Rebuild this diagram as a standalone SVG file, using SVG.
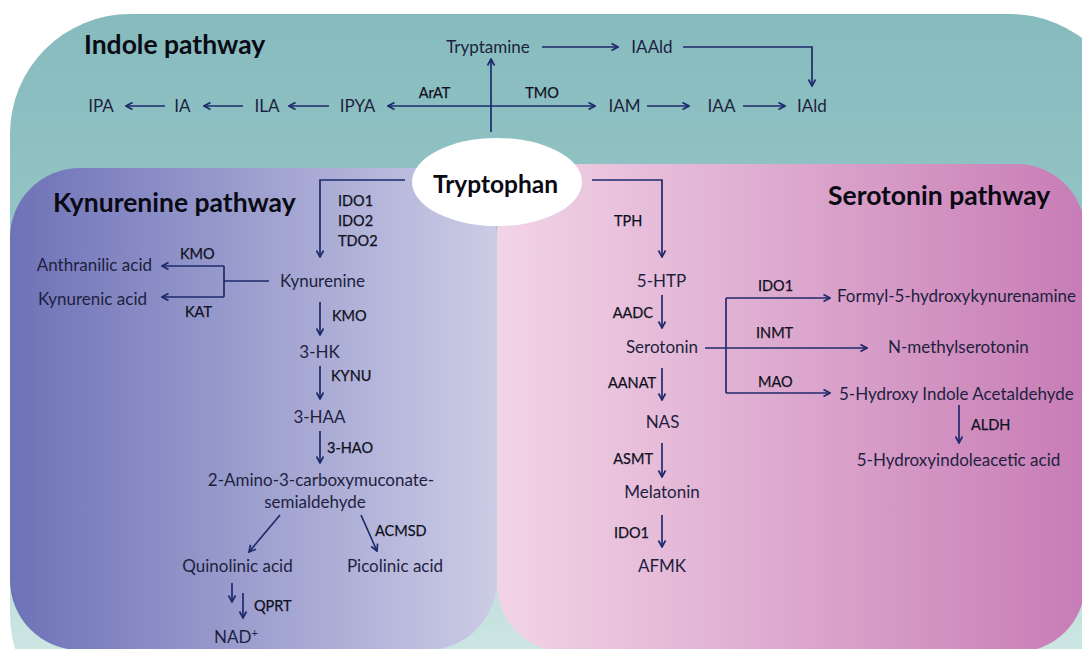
<svg xmlns="http://www.w3.org/2000/svg" width="1082" height="649" viewBox="0 0 1082 649">
<defs>
<linearGradient id="gTeal" x1="0" y1="0" x2="0" y2="1">
<stop offset="0" stop-color="#86bbbe"/><stop offset="0.3" stop-color="#94c4c5"/><stop offset="1" stop-color="#d6ece8"/>
</linearGradient>
<linearGradient id="gPurple" x1="0" y1="0" x2="1" y2="0">
<stop offset="0" stop-color="#6e72b7"/><stop offset="1" stop-color="#cccce6"/>
</linearGradient>
<linearGradient id="gPink" x1="0" y1="0" x2="1" y2="0">
<stop offset="0" stop-color="#f2d4e7"/><stop offset="1" stop-color="#c77cb5"/>
</linearGradient>
<marker id="ah" viewBox="0 0 10 10" refX="9" refY="5" markerWidth="10" markerHeight="10" markerUnits="userSpaceOnUse" orient="auto">
<path d="M2.5,1.5 L9,5 L2.5,8.5" fill="none" stroke="#1f2a6b" stroke-width="1.7"/>
</marker>
</defs>
<style>
.c{font-family:Lato,"Liberation Sans",sans-serif;font-size:17px;fill:#1e1f3f}
.e{font-family:Lato,"Liberation Sans",sans-serif;font-size:14.5px;fill:#101020;stroke:#101020;stroke-width:0.25}
.t{font-family:Lato,"Liberation Sans",sans-serif;font-size:26.5px;font-weight:bold;fill:#0a0a14}
.m{text-anchor:middle}
.end{text-anchor:end}
.ln{fill:none;stroke:#1f2a6b;stroke-width:1.7}
.ar{fill:none;stroke:#1f2a6b;stroke-width:1.7;marker-end:url(#ah)}
</style>
<rect width="1082" height="649" fill="#ffffff"/>
<g id="panels">
<rect id="indole-panel" x="10" y="14" width="1120" height="720" rx="120" fill="url(#gTeal)"/>
<rect id="kynurenine-panel" x="10" y="168" width="487" height="482" rx="70" fill="url(#gPurple)"/>
<rect id="serotonin-panel" x="497" y="164" width="588" height="488" rx="68" fill="url(#gPink)"/>
</g>
<g id="titles">
<text class="t" x="84" y="54">Indole pathway</text>
<text class="t" x="53" y="212">Kynurenine pathway</text>
<text class="t" x="828" y="205">Serotonin pathway</text>
</g>
<g id="connectors">
<path class="ar" d="M491,132 V59"/>
<path class="ar" d="M491,106 H388"/>
<path class="ar" d="M491,106 H595"/>
<path class="ar" d="M329,106 H289"/>
<path class="ar" d="M243,106 H204"/>
<path class="ar" d="M165,106 H126"/>
<path class="ar" d="M542,47 H618"/>
<path class="ar" d="M683,47 H812 V86"/>
<path class="ar" d="M647,106 H689"/>
<path class="ar" d="M743,106 H785"/>
<path class="ar" d="M405,180 H320 V257"/>
<path class="ln" d="M269,281 H224 M224,266 V297"/>
<path class="ar" d="M224,266 H162"/>
<path class="ar" d="M224,297 H162"/>
<path class="ar" d="M320,302 V335"/>
<path class="ar" d="M320,366 V399"/>
<path class="ar" d="M320,431 V463"/>
<path class="ar" d="M280,515 L249,552"/>
<path class="ar" d="M361,515 L377,551"/>
<path class="ar" d="M232,583 V602"/>
<path class="ar" d="M243,593 V618"/>
<path class="ar" d="M592,180 H662 V257"/>
<path class="ar" d="M662,295 V328"/>
<path class="ar" d="M705,348 H867"/>
<path class="ln" d="M726,298 V393"/>
<path class="ar" d="M726,298 H830"/>
<path class="ar" d="M726,393 H830"/>
<path class="ar" d="M959,405 V443"/>
<path class="ar" d="M662,368 V400"/>
<path class="ar" d="M662,443 V477"/>
<path class="ar" d="M662,515 V547"/>
</g>
<g id="enzyme-labels">
<text class="e m" x="434.5" y="98">ArAT</text>
<text class="e m" x="542" y="98">TMO</text>
<text class="e" x="338" y="206">IDO1</text>
<text class="e" x="338" y="226">IDO2</text>
<text class="e" x="338" y="246">TDO2</text>
<text class="e" x="180" y="259">KMO</text>
<text class="e" x="185" y="317">KAT</text>
<text class="e" x="332" y="321">KMO</text>
<text class="e" x="331" y="381">KYNU</text>
<text class="e" x="327" y="453">3-HAO</text>
<text class="e" x="375" y="536">ACMSD</text>
<text class="e" x="254" y="611">QPRT</text>
<text class="e" x="614" y="226">TPH</text>
<text class="e end" x="653" y="318">AADC</text>
<text class="e" x="758" y="291">IDO1</text>
<text class="e" x="756" y="338">INMT</text>
<text class="e" x="758" y="387">MAO</text>
<text class="e" x="971" y="430">ALDH</text>
<text class="e end" x="656" y="388">AANAT</text>
<text class="e end" x="653" y="464">ASMT</text>
<text class="e end" x="649" y="538">IDO1</text>
</g>
<g id="tryptophan">
<ellipse cx="497" cy="182" rx="85" ry="44" fill="#ffffff"/>
<text class="m" x="495.5" y="193" style="font-family:Lato,'Liberation Sans',sans-serif;font-size:24.5px;font-weight:bold;fill:#0a0a14">Tryptophan</text>
</g>
<g id="tryptamine"><text class="c m" x="488" y="53">Tryptamine</text></g>
<g id="iaald"><text class="c m" x="652" y="53">IAAld</text></g>
<g id="ipa"><text class="c m" x="101" y="112">IPA</text></g>
<g id="ia"><text class="c m" x="182.5" y="112">IA</text></g>
<g id="ila"><text class="c m" x="267" y="112">ILA</text></g>
<g id="ipya"><text class="c m" x="357.5" y="112">IPYA</text></g>
<g id="iam"><text class="c m" x="624.5" y="112">IAM</text></g>
<g id="iaa"><text class="c m" x="721.5" y="112">IAA</text></g>
<g id="iald"><text class="c m" x="812" y="112">IAld</text></g>
<g id="kynurenine"><text class="c m" x="322.5" y="287">Kynurenine</text></g>
<g id="anthranilic-acid"><text class="c end" x="152" y="271">Anthranilic acid</text></g>
<g id="kynurenic-acid"><text class="c end" x="147" y="305">Kynurenic acid</text></g>
<g id="hk3"><text class="c m" x="319.5" y="358">3-HK</text></g>
<g id="haa3"><text class="c m" x="319.5" y="423">3-HAA</text></g>
<g id="acms"><text class="c m" x="321" y="486">2-Amino-3-carboxymuconate-</text><text class="c m" x="315" y="508">semialdehyde</text></g>
<g id="quinolinic-acid"><text class="c m" x="237.5" y="572">Quinolinic acid</text></g>
<g id="picolinic-acid"><text class="c m" x="395" y="572">Picolinic acid</text></g>
<g id="nad"><text class="c m" x="236" y="643">NAD<tspan font-size="11" dy="-6">+</tspan></text></g>
<g id="htp5"><text class="c m" x="661.5" y="287">5-HTP</text></g>
<g id="serotonin"><text class="c m" x="662" y="353">Serotonin</text></g>
<g id="formyl"><text class="c" x="837" y="302">Formyl-5-hydroxykynurenamine</text></g>
<g id="n-methylserotonin"><text class="c" x="888" y="353">N-methylserotonin</text></g>
<g id="hial5"><text class="c" x="839" y="400">5-Hydroxy Indole Acetaldehyde</text></g>
<g id="hiaa5"><text class="c m" x="958.5" y="466">5-Hydroxyindoleacetic acid</text></g>
<g id="nas"><text class="c m" x="662.5" y="428">NAS</text></g>
<g id="melatonin"><text class="c m" x="662" y="498">Melatonin</text></g>
<g id="afmk"><text class="c m" x="662" y="572">AFMK</text></g>
</svg>
